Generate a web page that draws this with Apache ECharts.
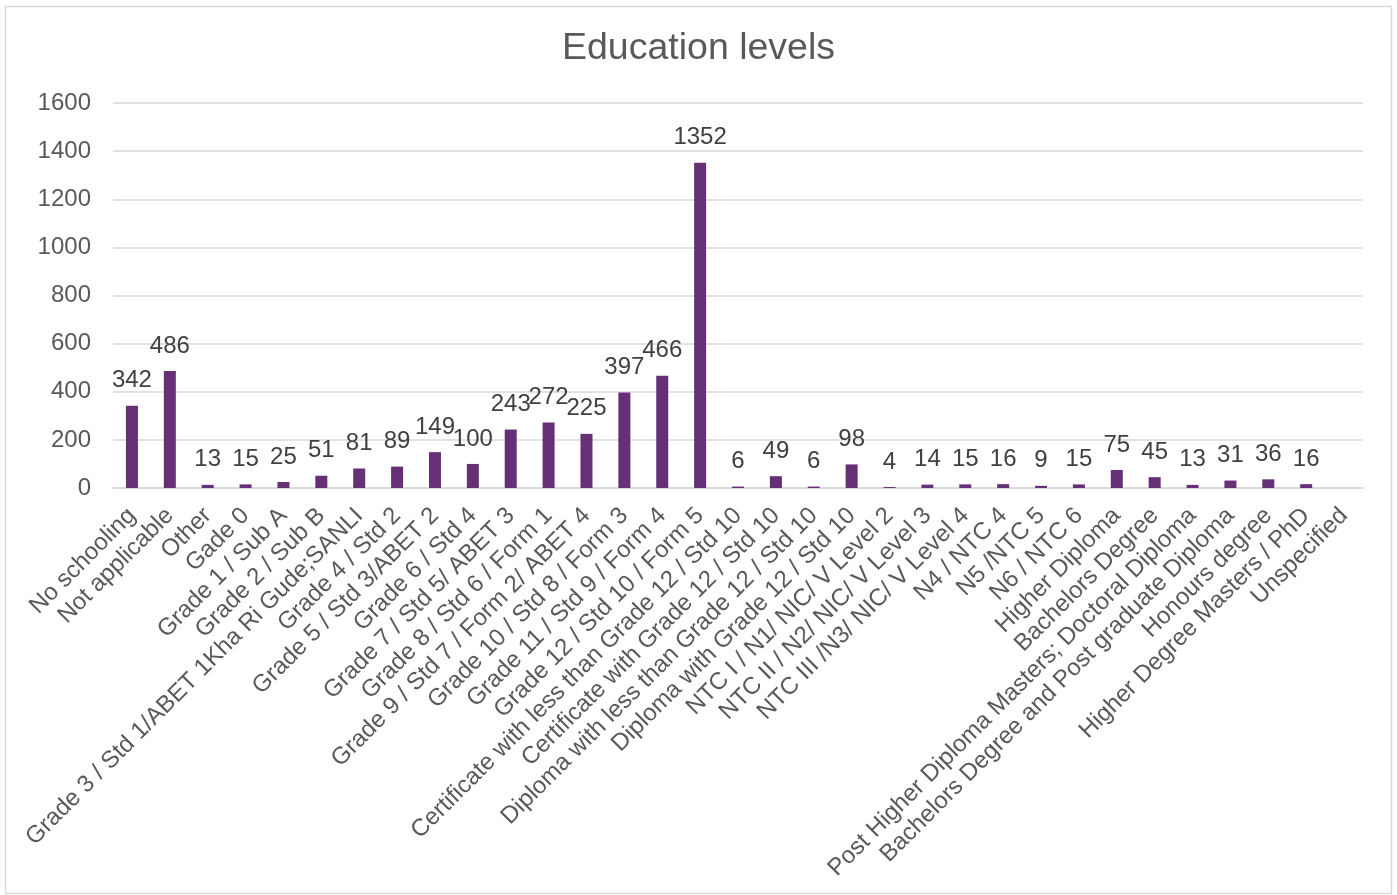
<!DOCTYPE html>
<html>
<head>
<meta charset="utf-8">
<script src="https://cdn.jsdelivr.net/npm/echarts@6/dist/echarts.min.js"></script>
<style>
html,body{margin:0;padding:0;background:#fff;}
#chart{width:1397px;height:895px;}
</style>
</head>
<body>
<div id="chart"></div>
<script>
const titleText = "Education levels";
const categories = [
  "No schooling",
  "Not applicable",
  "Other",
  "Gade 0",
  "Grade 1 / Sub A",
  "Grade 2 / Sub B",
  "Grade 3 / Std 1/ABET 1Kha Ri Gude;SANLI",
  "Grade 4 / Std 2",
  "Grade 5 / Std 3/ABET 2",
  "Grade 6 / Std 4",
  "Grade 7 / Std 5/ ABET 3",
  "Grade 8 / Std 6 / Form 1",
  "Grade 9 / Std 7 / Form 2/ ABET 4",
  "Grade 10 / Std 8 / Form 3",
  "Grade 11 / Std 9 / Form 4",
  "Grade 12 / Std 10 / Form 5",
  "Certificate with less than Grade 12 / Std 10",
  "Certificate with Grade 12 / Std 10",
  "Diploma with less than Grade 12 / Std 10",
  "Diploma with Grade 12 / Std 10",
  "NTC I / N1/ NIC/ V Level 2",
  "NTC II / N2/ NIC/ V Level 3",
  "NTC III /N3/ NIC/ V Level 4",
  "N4 / NTC 4",
  "N5 /NTC 5",
  "N6 / NTC 6",
  "Higher Diploma",
  "Bachelors Degree",
  "Post Higher Diploma Masters; Doctoral Diploma",
  "Bachelors Degree and Post graduate Diploma",
  "Honours degree",
  "Higher Degree Masters / PhD",
  "Unspecified"
];
const values = [342, 486, 13, 15, 25, 51, 81, 89, 149, 100, 243, 272, 225, 397, 466, 1352, 6, 49, 6, 98, 4, 14, 15, 16, 9, 15, 75, 45, 13, 31, 36, 16, null];
const yMin = 0, yMax = 1600, yInterval = 200;

const FONT = "'Liberation Sans', Arial, sans-serif";
const chart = echarts.init(document.getElementById('chart'), null, {renderer: 'canvas'});
chart.setOption({
  animation: false,
  backgroundColor: '#ffffff',
  title: {
    text: titleText,
    left: 'center',
    top: 30,
    padding: 0,
    textStyle: {fontFamily: FONT, fontSize: 37.5, fontWeight: 'normal', color: '#595959'}
  },
  graphic: [{
    type: 'rect',
    shape: {x: 5.5, y: 6.5, width: 1386, height: 887},
    style: {fill: 'none', stroke: '#D9D9D9', lineWidth: 1.5},
    silent: true
  }],
  grid: {left: 113, right: 34, top: 103, bottom: 407, containLabel: false},
  xAxis: {
    type: 'category',
    data: categories,
    axisLine: {show: true, lineStyle: {color: '#D9D9D9', width: 1.5}},
    axisTick: {show: false},
    axisLabel: {
      interval: 0,
      rotate: 45,
      margin: 24,
      fontFamily: FONT,
      fontSize: 24,
      color: '#595959'
    }
  },
  yAxis: {
    type: 'value',
    min: yMin,
    max: yMax,
    interval: yInterval,
    axisLine: {show: false},
    axisTick: {show: false},
    splitLine: {lineStyle: {color: '#D9D9D9', width: 1.5}},
    axisLabel: {
      margin: 22,
      fontFamily: FONT,
      fontSize: 24,
      color: '#595959',
      formatter: function (v) { return String(v); }
    }
  },
  series: [{
    type: 'bar',
    data: values,
    barWidth: 12,
    itemStyle: {color: '#653075'},
    label: {
      show: true,
      position: 'top',
      distance: 13,
      fontFamily: FONT,
      fontSize: 24,
      color: '#404040'
    }
  }]
});
</script>
</body>
</html>
